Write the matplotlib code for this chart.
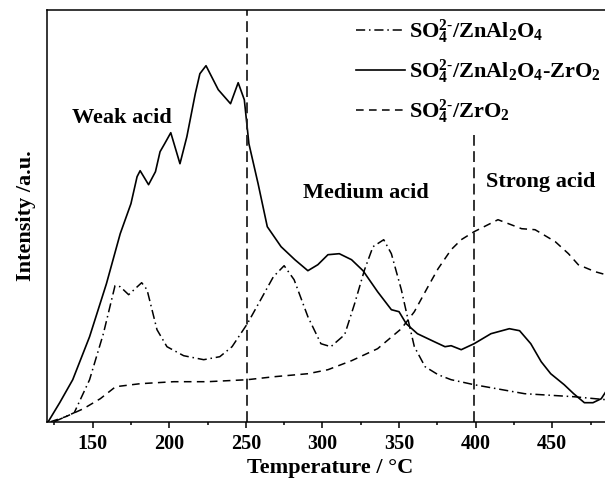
import matplotlib
matplotlib.use("Agg")
import matplotlib.pyplot as plt
from matplotlib.ticker import MultipleLocator

plt.rcParams["font.family"] = "Liberation Serif"
plt.rcParams["font.weight"] = "bold"
plt.rcParams["mathtext.fontset"] = "custom"
plt.rcParams["mathtext.rm"] = "Liberation Serif:bold"
plt.rcParams["mathtext.it"] = "Liberation Serif:bold"
plt.rcParams["mathtext.bf"] = "Liberation Serif:bold"

# SO4/ZnAl2O4-ZrO2 (solid)
t_mix = [121, 128.5, 137, 148, 159, 168, 175, 179, 181, 186.5, 191, 194, 197, 201,
         207, 211.5, 217, 220, 224, 232, 240, 245, 249, 252, 258, 264, 273, 282,
         290.5, 297, 303.6, 311, 319, 326.5, 336, 345, 350, 354.7, 362, 373, 380,
         384, 390.6, 399, 410, 422, 428.7, 436, 442.8, 449, 457.8, 464, 471,
         476.6, 482, 485, 490]
i_mix = [0, 19, 42, 85, 138, 188, 218, 245, 251, 237, 250, 270, 278, 289,
         258, 285, 328, 348, 356, 332, 318, 339, 322, 278, 238, 195, 175, 162,
         151, 157, 167, 168, 162, 151, 130, 112, 110, 98, 88, 80, 75,
         76, 72, 78, 88, 93, 91, 78, 60, 48, 37, 28, 19,
         19, 23, 30, 40]

# SO4/ZnAl2O4 (dash-dot)
t_zna = [125, 138, 148, 157, 164.6, 168, 173.5, 182, 185.5, 192, 198.5, 209.4,
         222.5, 233, 241, 251, 259.7, 268, 275, 281.5, 290.5, 299, 305.5,
         314.5, 321, 327.5, 333, 340, 345, 351.5, 355.9, 360, 367, 375.5, 384,
         399, 432, 464, 485, 490]
i_zna = [0, 9, 42, 88, 136, 135, 127, 139, 132, 92, 75, 66,
         62, 65, 75, 98, 122, 145, 156, 142, 105, 78, 75,
         87, 118, 152, 175, 182, 168, 132, 102, 75, 55, 47, 42,
         37, 28, 25, 22, 21]

# SO4/ZrO2 (dashed)
t_zr = [122.6, 132.4, 144, 155, 165, 181, 203, 225, 251, 268.6, 290.6, 303.6,
        319, 336, 351.5, 360, 368.9, 375.5, 384, 390.6, 399, 414.6, 430, 438.8,
        452, 460.6, 467, 478, 485, 490]
i_zr = [0, 5, 13, 23, 35, 38, 40, 40, 42, 45, 48, 52,
        61, 73, 93, 110, 135, 153, 172, 182, 190, 202, 193, 192,
        180, 168, 157, 150, 147, 145]

labels = [r"SO$_4^{2\text{-}}$/ZnAl$_2$O$_4$",
          r"SO$_4^{2\text{-}}$/ZnAl$_2$O$_4$-ZrO$_2$",
          r"SO$_4^{2\text{-}}$/ZrO$_2$"]

# acid-strength region labels and where they sit (deg C, intensity)
regions = ["Weak acid", "Medium acid", "Strong acid"]
region_t = [169, 328.5, 442.7]
region_i = [304, 229, 240]

fig = plt.figure(figsize=(6.05, 4.88), dpi=100)
ax = fig.add_axes([47.3 / 605, (488 - 421.7) / 488, (613.5 - 47.3) / 605, (421.7 - 10) / 488])

ax.plot(t_zna, i_zna, color="black", lw=1.1, dashes=[6, 2.5, 1, 2.5], label=labels[0])
ax.plot(t_mix, i_mix, color="black", lw=1.2, label=labels[1])
ax.plot(t_zr, i_zr, color="black", lw=1.1, dashes=[5, 3.5], label=labels[2])

# region boundaries
ax.axvline(251, color="#222222", lw=1.3, dashes=[6, 3])
ax.plot([399, 399], [0, 287], color="#222222", lw=1.3, dashes=[6, 3])

ax.set_xlim(120.4, 490)
ax.set_ylim(0, 411.7)
ax.xaxis.set_major_locator(MultipleLocator(50))
ax.xaxis.set_minor_locator(MultipleLocator(25))
ax.tick_params(axis="x", which="major", direction="out", length=4.5, width=1.1, labelsize=14.5, pad=4)
ax.tick_params(axis="x", which="minor", direction="out", length=2.5, width=1.1)
ax.set_yticks([])
for s in ax.spines.values():
    s.set_linewidth(1.1)

ax.set_xlabel("Temperature / °C", fontsize=16, fontweight="bold", labelpad=3)
ax.set_ylabel("Intensity /a.u.", fontsize=16, fontweight="bold", labelpad=8)

for name, t, i in zip(regions, region_t, region_i):
    ax.text(t, i, name, fontsize=16, fontweight="bold", ha="center", va="center")

leg = ax.legend(loc="upper left", bbox_to_anchor=(356 / 605, 1 - 17 / 488), bbox_transform=fig.transFigure,
                frameon=False, fontsize=16, handlelength=2.2, handletextpad=0.2, labelspacing=0.5,
                borderpad=0, borderaxespad=0)
for txt in leg.get_texts():
    txt.set_fontweight("bold")

fig.savefig("out.png", dpi=100)
